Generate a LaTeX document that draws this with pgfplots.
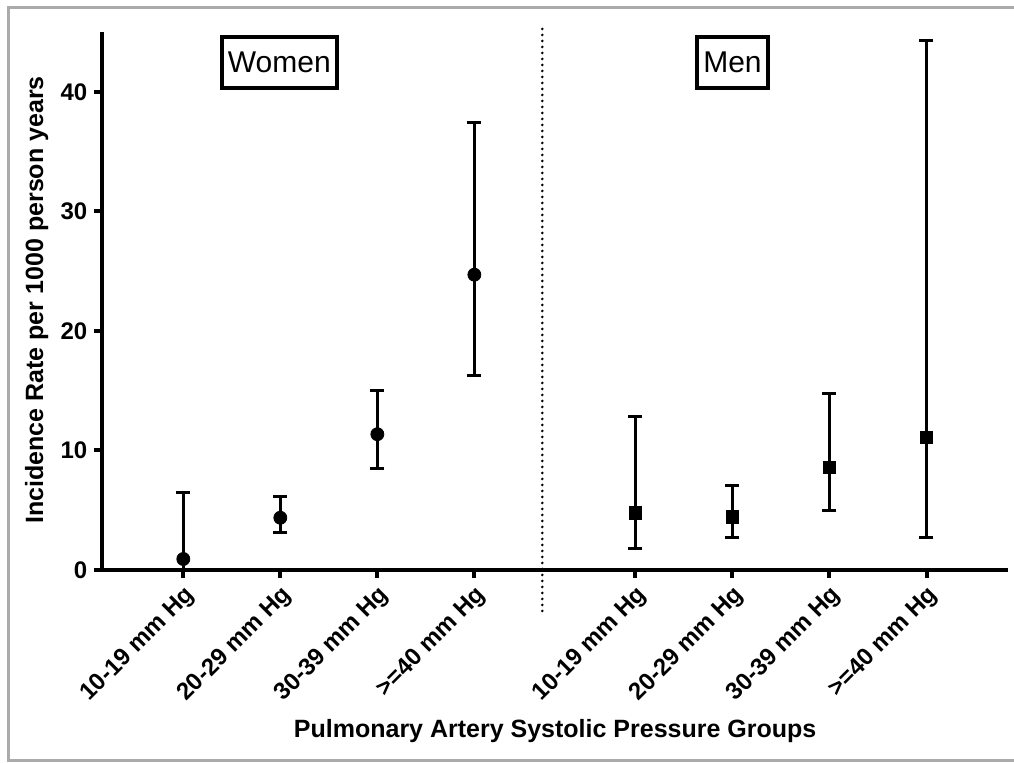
\documentclass[border=0pt]{standalone}
\usepackage{fontspec}
\setmainfont{Liberation Sans}
\usepackage{pgfplots}
\pgfplotsset{compat=1.18}

\begin{document}
\begin{tikzpicture}
\useasboundingbox (-51.15pt,-96pt) rectangle (455.85pt,285pt);
% grey outer frame (right side lies outside the picture)
\draw[line width=1.5pt, color=black!33] (470pt,281pt) -- (-46.65pt,281pt) -- (-46.65pt,-95pt) -- (470pt,-95pt);
\begin{axis}[
    at={(0,0)}, anchor=origin,
    scale only axis,
    width=452.85pt, height=269pt,
    xmin=0.165, xmax=9.5,
    ymin=0, ymax=45,
    axis x line=bottom, axis y line=left,
    axis line style={line width=2.2pt, -},
    clip=false,
    tick align=outside,
    major tick length=4pt,
    every tick/.style={line width=2pt, black},
    xtick={1,2,3,4,5.66,6.66,7.66,8.66},
    xticklabels={10-19 mm Hg,20-29 mm Hg,30-39 mm Hg,>=40 mm Hg,10-19 mm Hg,20-29 mm Hg,30-39 mm Hg,>=40 mm Hg},
    ytick={0,10,20,30,40},
    /pgf/number format/assume math mode=true,
    ticklabel style={font=\fontsize{12}{14}\selectfont\bfseries},
    xticklabel style={rotate=45, anchor=north east, inner sep=2pt},
    xlabel={Pulmonary Artery Systolic Pressure Groups},
    ylabel={Incidence Rate per 1000 person years},
    every axis x label/.style={at={(rel axis cs:0.5,0)}, anchor=base, yshift=-83.5pt,
        font=\fontsize{12.5}{15}\selectfont\bfseries},
    every axis y label/.style={at={(rel axis cs:0,0.502)}, xshift=-29.6pt, anchor=base, rotate=90,
        font=\fontsize{12.5}{15}\selectfont\bfseries},
]
% Women
\addplot[only marks, mark=*, mark size=3.25pt, black,
    error bars/.cd, y dir=both, y explicit, error mark=|,
    error bar style={line width=1.5pt, black},
    error mark options={line width=1.5pt, mark size=3.5pt, black}]
coordinates {
    (1,0.92)  += (0,5.57)  -= (0,0.92)
    (2,4.37)  += (0,1.75)  -= (0,1.22)
    (3,11.36) += (0,3.67)  -= (0,2.87)
    (4,24.7)  += (0,12.7)  -= (0,8.4)
};
% Men
\addplot[only marks, mark=square*, mark size=3.1pt, black,
    error bars/.cd, y dir=both, y explicit, error mark=|,
    error bar style={line width=1.5pt, black},
    error mark options={line width=1.5pt, mark size=3.5pt, black}]
coordinates {
    (5.66,4.79) += (0,8.07)  -= (0,2.98)
    (6.66,4.43) += (0,2.61)  -= (0,1.67)
    (7.66,8.6)  += (0,6.18)  -= (0,3.62)
    (8.66,11.1) += (0,33.16) -= (0,8.37)
};
% separator between the groups
\draw[line width=1.4pt, line cap=round, dash pattern=on 0pt off 3pt] (axis cs:4.70,45.26) -- (axis cs:4.70,-3.5);
% group labels
\node[draw, line width=2pt, inner xsep=3pt, minimum height=25.5pt, font=\fontsize{15}{18}\selectfont]
    at (axis cs:1.99,42.46) {Women};
\node[draw, line width=2pt, inner xsep=3pt, minimum height=25.5pt, font=\fontsize{15}{18}\selectfont]
    at (axis cs:6.66,42.46) {Men};
\end{axis}
\end{tikzpicture}
\end{document}
